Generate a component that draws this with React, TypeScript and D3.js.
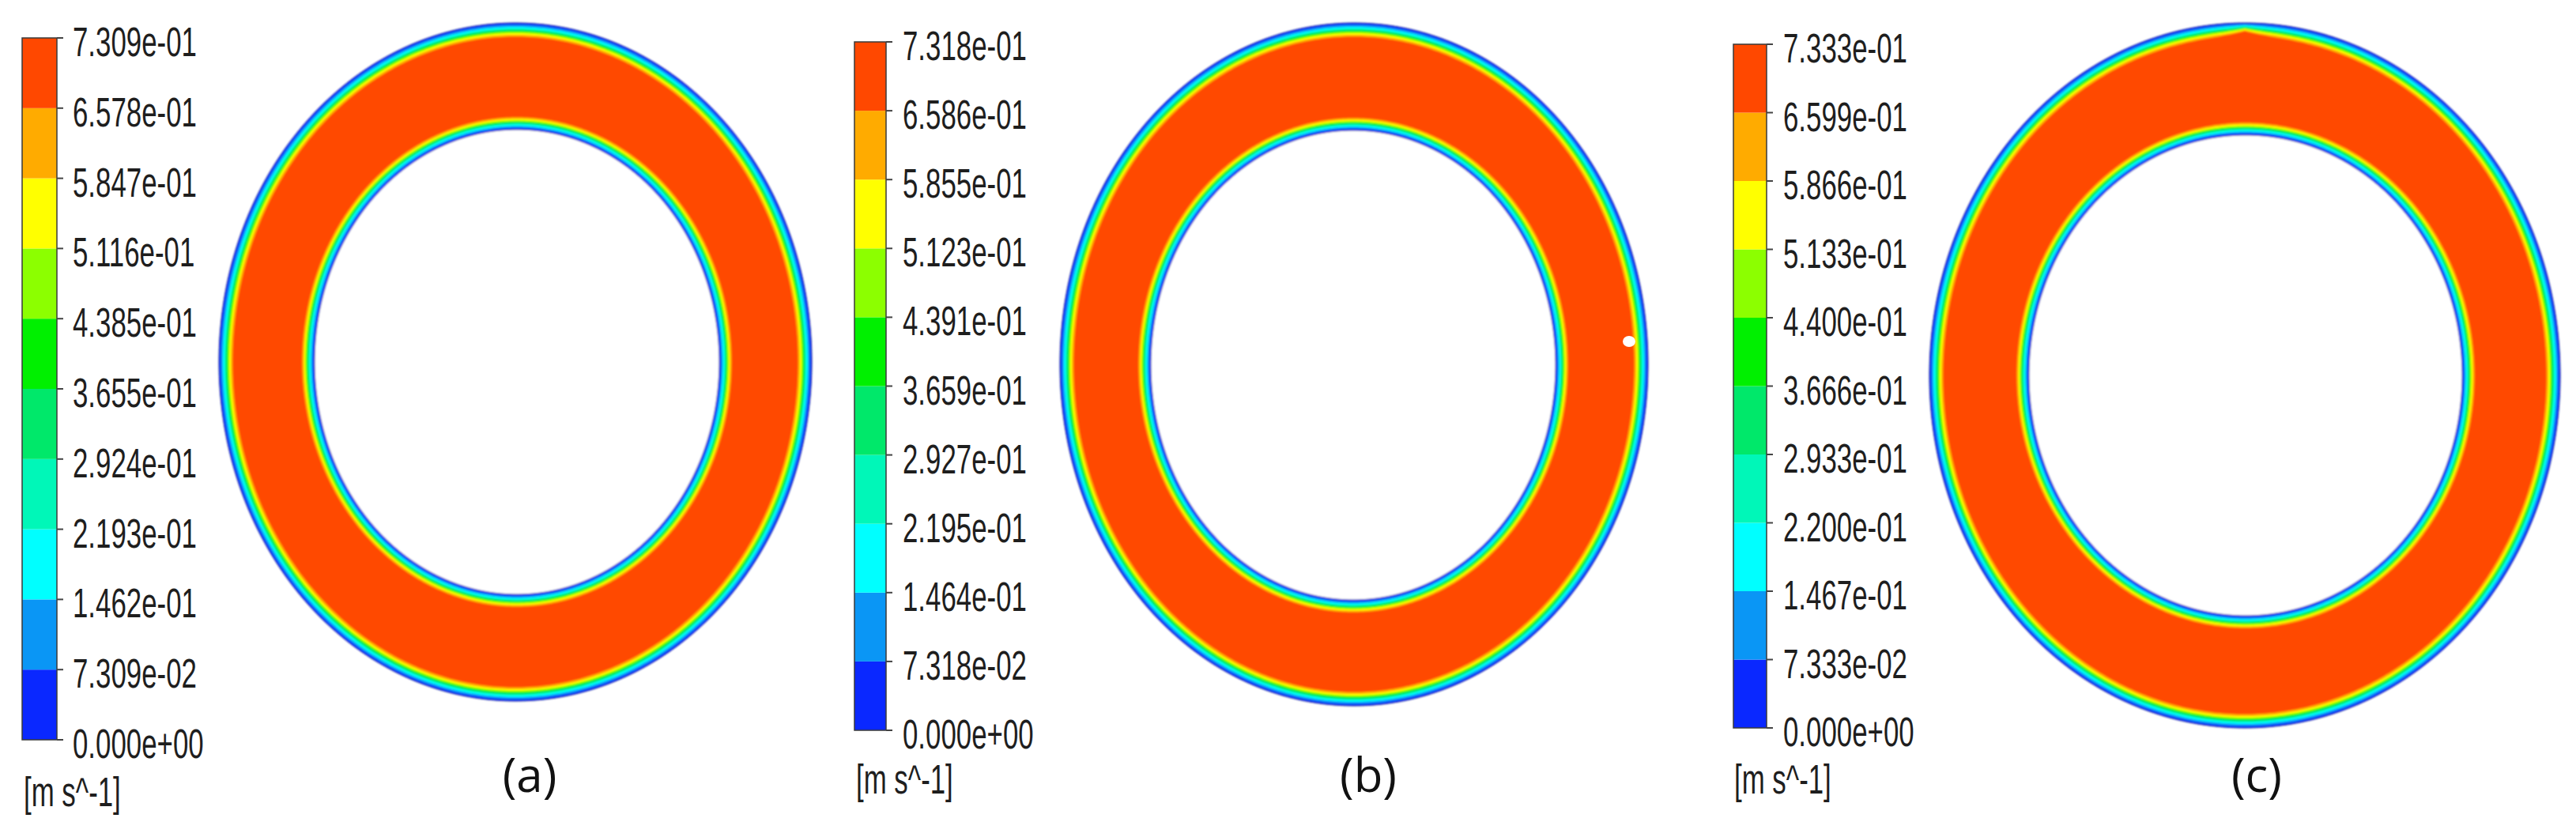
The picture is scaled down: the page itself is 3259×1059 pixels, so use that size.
import React, { useEffect } from 'react';
import * as d3 from 'd3';

// ---------- data ----------
const panelLabels = ['(a)', '(b)', '(c)'];
const unitLabel = '[m s^-1]';
const vmaxValues = [0.7309, 0.7318, 0.7333];
const ticksA = ['0.000e+00', '7.309e-02', '1.462e-01', '2.193e-01', '2.924e-01', '3.655e-01', '4.385e-01', '5.116e-01', '5.847e-01', '6.578e-01', '7.309e-01'];
const ticksB = ['0.000e+00', '7.318e-02', '1.464e-01', '2.195e-01', '2.927e-01', '3.659e-01', '4.391e-01', '5.123e-01', '5.855e-01', '6.586e-01', '7.318e-01'];
const ticksC = ['0.000e+00', '7.333e-02', '1.467e-01', '2.200e-01', '2.933e-01', '3.666e-01', '4.400e-01', '5.133e-01', '5.866e-01', '6.599e-01', '7.333e-01'];
const tickSets = [ticksA, ticksB, ticksC];
// contour band colours, low -> high
const bandColors = ['#0a28ff', '#0a96f5', '#00ffff', '#00f7b8', '#00e86a', '#00f000', '#8cff00', '#ffff00', '#ffab00', '#ff4800'];
// wall distance (px) at which velocity reaches level i/10 of max (boundary layer profile)
const wallDepth = [0, 2.5, 5, 7, 8.5, 10, 11.5, 13, 15, 17.5];

// ---------- layout ----------
const W = 3259;
const H = 1059;
const legends = [
  { x: 28, w: 44, top: 48, bottom: 936, labelX: 92, unitX: 30, unitY: 1020 },
  { x: 1081, w: 40, top: 53, bottom: 924, labelX: 1142, unitX: 1083, unitY: 1004 },
  { x: 2193, w: 42, top: 56, bottom: 921, labelX: 2256, unitX: 2194, unitY: 1004 },
];
const rings = [
  { cx: 652, cy: 458, rx: 375, ry: 429, icx: 654, icy: 458, irx: 256, iry: 294, bump: 0 },
  { cx: 1713, cy: 461, rx: 372, ry: 432, icx: 1712, icy: 462, irx: 256, iry: 297, bump: 0 },
  { cx: 2840, cy: 475, rx: 399, ry: 446, icx: 2841, icy: 475, irx: 274, iry: 304, bump: 0.4 },
];
const labelPos = [
  { x: 670, y: 1002 },
  { x: 1731, y: 1002 },
  { x: 2855, y: 1002 },
];
const dot = { x: 2061, y: 432, rx: 8, ry: 7 };

const lineGen = d3
  .line<[number, number]>()
  .x((p) => p[0])
  .y((p) => p[1])
  .curve(d3.curveLinearClosed);

function ellipsePath(cx: number, cy: number, rx: number, ry: number, d: number, bump: number) {
  const n = 540;
  const pts: [number, number][] = d3.range(n).map((k) => {
    const t = (k / n) * 2 * Math.PI - Math.PI;
    const dt = Math.abs(t + Math.PI / 2);
    const f = 1 - bump * Math.exp(-dt / 0.06);
    const dd = d * f;
    return [cx + (rx - dd) * Math.cos(t), cy + (ry - dd) * Math.sin(t)];
  });
  return lineGen(pts) as string;
}

function Legend({ i }: { i: number }) {
  const L = legends[i];
  const vmax = vmaxValues[i];
  const ticks = tickSets[i];
  const y = d3.scaleLinear().domain([0, vmax]).range([L.bottom, L.top]);
  const levels = d3.range(10).map((k) => (vmax * k) / 10);
  return (
    <g>
      {levels.map((v, k) => (
        <rect
          key={k}
          x={L.x}
          y={y(v + vmax / 10)}
          width={L.w}
          height={y(v) - y(v + vmax / 10)}
          fill={bandColors[k]}
        />
      ))}
      <rect x={L.x} y={L.top} width={L.w} height={L.bottom - L.top} fill="none" stroke="#3a3a3a" strokeWidth={1.5} />
      {ticks.map((t, k) => {
        const ty = y((vmax * k) / 10);
        return (
          <g key={t}>
            <line x1={L.x + L.w} x2={L.x + L.w + 8} y1={ty} y2={ty} stroke="#444" strokeWidth={2} />
            <text
              transform={`translate(${L.labelX},${ty + 23}) scale(0.67,1)`}
              fontFamily="'Liberation Sans', Arial, sans-serif"
              fontSize={52}
              fill="#1e1e1e"
            >
              {t}
            </text>
          </g>
        );
      })}
      <text
        transform={`translate(${L.unitX},${L.unitY}) scale(0.67,1)`}
        fontFamily="'Liberation Sans', Arial, sans-serif"
        fontSize={52}
        fill="#1e1e1e"
      >
        {unitLabel}
      </text>
    </g>
  );
}

function Ring({ i }: { i: number }) {
  const R = rings[i];
  const innerScale = 0.9;
  return (
    <g filter="url(#soft)">
      {bandColors.map((c, k) => (
        <path key={'o' + k} d={ellipsePath(R.cx, R.cy, R.rx, R.ry, wallDepth[k], R.bump)} fill={c} />
      ))}
      {d3.range(8, -1, -1).map((k) => (
        <path
          key={'i' + k}
          d={ellipsePath(R.icx, R.icy, R.irx, R.iry, -wallDepth[k + 1] * innerScale, 0)}
          fill={bandColors[k]}
        />
      ))}
      <path d={ellipsePath(R.icx, R.icy, R.irx, R.iry, 0, 0)} fill="#fff" stroke="#15208a" strokeWidth={0.9} />
      <path d={ellipsePath(R.cx, R.cy, R.rx, R.ry, 0, 0)} fill="none" stroke="#15208a" strokeWidth={1} />
    </g>
  );
}

export default function App() {
  useEffect(() => {
    document.body.style.margin = '0';
  }, []);
  return (
    <svg width={W} height={H} style={{ display: 'block', position: 'absolute', left: 0, top: 0 }}>
      <defs>
        <filter id="soft" x="-5%" y="-5%" width="110%" height="110%">
          <feGaussianBlur stdDeviation={0.9} />
        </filter>
      </defs>
      <rect x={0} y={0} width={W} height={H} fill="#fff" />
      {[0, 1, 2].map((i) => (
        <g key={i}>
          <Legend i={i} />
          <Ring i={i} />
          <text
            x={labelPos[i].x}
            y={labelPos[i].y}
            textAnchor="middle"
            fontFamily="'Open Sans', 'Noto Sans', sans-serif"
            fontSize={60}
            fill="#111"
          >
            {panelLabels[i]}
          </text>
        </g>
      ))}
      <ellipse cx={dot.x} cy={dot.y} rx={dot.rx} ry={dot.ry} fill="#fff" />
    </svg>
  );
}
